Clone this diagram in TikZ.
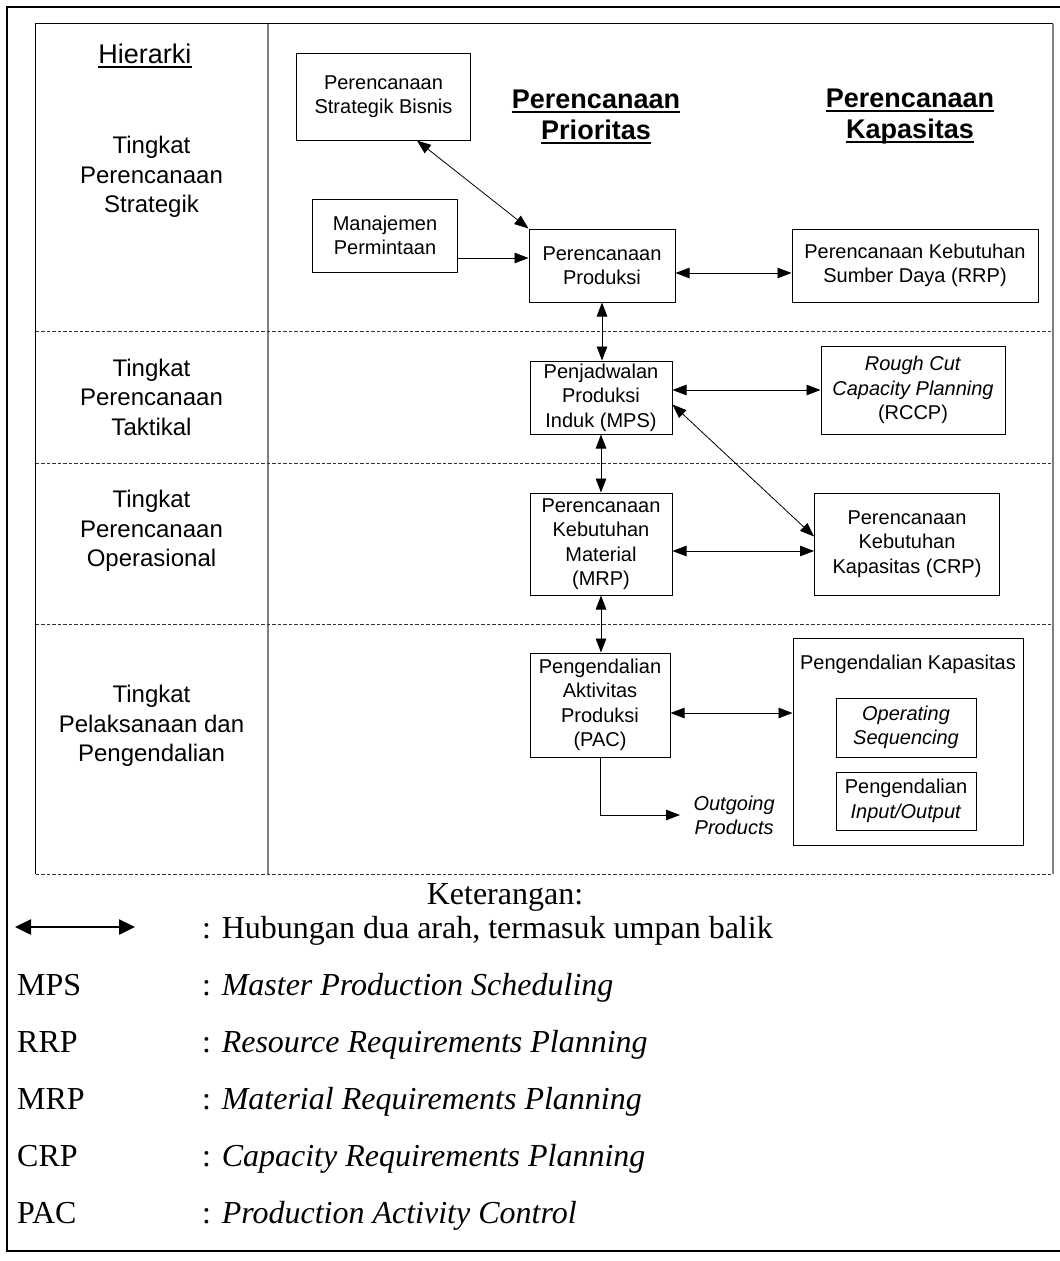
\documentclass[tikz,border=0pt]{standalone}
\usepackage{fontspec}
\setmainfont{Liberation Serif}
\newfontfamily\arialfont{Liberation Sans}
\usetikzlibrary{arrows.meta, positioning}

\newcommand{\undl}[2][1.5pt]{\setbox0\hbox{#2}\rlap{\rule[-4.5pt]{\wd0}{#1}}\box0}

\begin{document}
\begin{tikzpicture}[
    x=1pt, y=-1pt,
    every node/.style={font=\arialfont\fontsize{20}{24.5}\selectfont},
    box/.style={rectangle, draw, line width=1pt, align=center, inner sep=0pt},
    level/.style={align=center, font=\arialfont\fontsize{24}{29.5}\selectfont},
    head/.style={align=center, font=\arialfont\bfseries\fontsize{27}{31}\selectfont},
    leg/.style={anchor=base west, inner sep=0pt, font=\fontsize{32}{38}\selectfont},
    arr/.style={{Triangle[length=14pt,width=10.5pt]}-{Triangle[length=14pt,width=10.5pt]}, line width=0.8pt},
    onearr/.style={-{Triangle[length=14pt,width=10.5pt]}, line width=0.8pt},
    lane/.style={dash pattern=on 3.5pt off 2pt, line width=0.8pt, draw=black!80}
]
\useasboundingbox (0,0) rectangle (1060,1261);

% --- frames and lanes ---
\draw[line width=2.5pt] (1060,7) -- (7,7) -- (7,1251) -- (1060,1251);
\draw[line width=1pt] (1053,23.5) -- (35.5,23.5) -- (35.5,874);
\draw[gray, line width=1.3pt] (1053,23.5) -- (1053,874);
\draw[gray, line width=1.3pt] (268,23.5) -- (268,874);
\foreach \yy in {331,463,624,874}
    \draw[lane] (35.5,\yy) -- (1053,\yy);

% --- hierarchy column ---
\node (hier) at (145,55.5) [font=\arialfont\fontsize{27}{32}\selectfont] {\undl{Hierarki}};
\node (lvstrat) [level] at (151.5,177) {Tingkat\\Perencanaan\\Strategik};
\node (lvtakt) [level] at (151.5,397) {Tingkat\\Perencanaan\\Taktikal};
\node (lvoper) [level] at (151.5,531) {Tingkat\\Perencanaan\\Operasional};
\node (lvpel) [level] at (151.5,726) {Tingkat\\Pelaksanaan dan\\Pengendalian};

% --- headers ---
\node (hprio) [head] at (596,117) {\undl[2pt]{Perencanaan}\\\undl[2pt]{Prioritas}};
\node (hkap) [head] at (910,117) {\undl[2pt]{Perencanaan}\\\undl[2pt]{Kapasitas}};

% --- boxes ---
\node (sbis) [box, minimum width=174pt, minimum height=87pt] at (383.5,96.5) {Perencanaan\\Strategik Bisnis};
\node (mdem) [box, minimum width=145pt, minimum height=73pt] at (385,235.5) {Manajemen\\Permintaan};
\node (prod) [box, minimum width=146pt, minimum height=73pt] at (602,265.5) {Perencanaan\\Produksi};
\node (rrp) [box, minimum width=246pt, minimum height=73pt] at (915,265.5) {Perencanaan Kebutuhan\\Sumber Daya (RRP)};
\node (mps) [box, minimum width=142pt, minimum height=73pt] at (601,397.5) {Penjadwalan\\Produksi\\Induk (MPS)};
\node (rccp) [box, minimum width=184pt, minimum height=88pt] at (913,390) {\textit{Rough Cut}\\\textit{Capacity Planning}\\(RCCP)};
\node (mrp) [box, minimum width=142pt, minimum height=102pt] at (601,544) {Perencanaan\\Kebutuhan\\Material\\(MRP)};
\node (crp) [box, minimum width=185pt, minimum height=102pt] at (907,544) {Perencanaan\\Kebutuhan\\Kapasitas (CRP)};
\node (pac) [box, minimum width=140pt, minimum height=104pt] at (600,705) {Pengendalian\\Aktivitas\\Produksi\\(PAC)};
\node (pk) [box, minimum width=230pt, minimum height=207pt] at (908,741.5) {};
\node (pktitle) at (908,664) {Pengendalian Kapasitas};
\node (opseq) [box, minimum width=140pt, minimum height=59pt] at (906,727.5) {\textit{Operating}\\\textit{Sequencing}};
\node (inout) [box, minimum width=140pt, minimum height=58pt] at (906,801) {Pengendalian\\\textit{Input/Output}};
\coordinate (outp) at (680,815);
\node (outtxt) [right=10pt of outp, align=center, font=\arialfont\itshape\fontsize{20}{24}\selectfont] {Outgoing\\Products};

% --- connectors ---
\draw[arr] ([xshift=-54pt]sbis.south east) -- (prod.north west);
\draw[onearr] ([yshift=-22.5pt]mdem.east) -- ([yshift=-22.5pt]mdem.east -| prod.west);
\draw[arr] ([yshift=-7.5pt]prod.east) -- ([yshift=-7.5pt]prod.east -| rrp.west);
\draw[arr] (prod.south) -- (prod.south |- mps.north);
\draw[arr] (rccp.west -| mps.east) -- (rccp.west);
\draw[arr] ([yshift=-44pt]mps.north east) -- ([yshift=-44pt]crp.north west);
\draw[arr] (mps.south) -- (mps.south |- mrp.north);
\draw[arr] ([yshift=-7pt]mrp.east) -- ([yshift=-7pt]mrp.east -| crp.west);
\draw[arr] (mrp.south) -- (mrp.south |- pac.north);
\draw[arr] ([yshift=-8pt]pac.east) -- ([yshift=-8pt]pac.east -| pk.west);
\draw[onearr] (pac.south) |- (outp);

% --- keterangan ---
\node (ket) [anchor=base, inner sep=0pt, font=\fontsize{32}{38}\selectfont] at (505,904) {Keterangan:};
\coordinate (lga) at (15,927);
\coordinate (lgb) at (135,927);
\draw[{Triangle[length=16pt,width=15pt]}-{Triangle[length=16pt,width=15pt]}, line width=2.5pt] (lga) -- (lgb);
\node (hub) [leg] at (202,938) {: Hubungan dua arah, termasuk umpan balik};
\foreach \ab/\txt [count=\i] in {MPS/Master Production Scheduling,
    RRP/Resource Requirements Planning,
    MRP/Material Requirements Planning,
    CRP/Capacity Requirements Planning,
    PAC/Production Activity Control}
{
    \node (ab\i) [leg] at (17,938+57*\i) {\ab};
    \node (ds\i) [leg] at (202,938+57*\i) {: \textit{\txt}};
}
\end{tikzpicture}
\end{document}
